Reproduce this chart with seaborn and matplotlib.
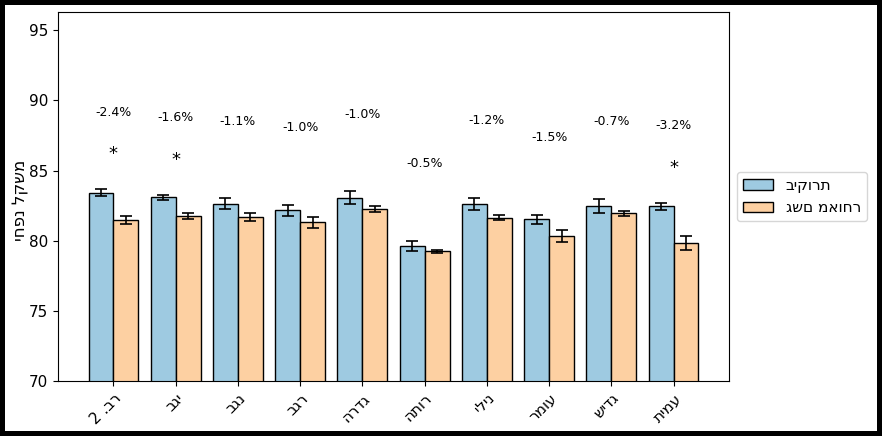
import matplotlib
matplotlib.use("Agg")
import matplotlib.pyplot as plt
import seaborn as sns
import pandas as pd

# ---- data ----
categories = ["רב. 2", "יגב", "נגב", "רגב", "גדרה", "רותה", "נילי", "עומר", "גדיש", "עמית"]
groups = ["ביקורת", "גשם מאוחר"]
control_mean = [83.41, 83.08, 82.63, 82.16, 83.06, 79.62, 82.61, 81.52, 82.49, 82.44]
control_err = [0.25, 0.19, 0.39, 0.40, 0.46, 0.38, 0.44, 0.33, 0.50, 0.24]
late_mean = [81.47, 81.75, 81.68, 81.30, 82.27, 79.24, 81.63, 80.33, 81.94, 79.85]
late_err = [0.31, 0.21, 0.28, 0.37, 0.19, 0.10, 0.17, 0.42, 0.21, 0.49]
pct_labels = ["-2.4%", "-1.6%", "-1.1%", "-1.0%", "-1.0%", "-0.5%", "-1.2%", "-1.5%", "-0.7%", "-3.2%"]
significant = [True, True, False, False, False, False, False, False, False, True]
y_label = "משקל נפחי"

colors = ["#9ecae1", "#fdd0a2"]


def rtl(s):
    # visual (right-to-left) order for matplotlib, which lays text out left to right
    return s[::-1]


df = pd.DataFrame({
    "cat": categories * 2,
    "group": [groups[0]] * len(categories) + [groups[1]] * len(categories),
    "value": control_mean + late_mean,
})

fig = plt.figure(figsize=(8.82, 4.36), dpi=100)
ax = fig.add_axes([0.0658, 0.1261, 0.7607, 0.8464])

sns.barplot(data=df, x="cat", y="value", hue="group", order=categories,
            hue_order=groups, palette=colors, saturation=1, errorbar=None,
            edgecolor="black", linewidth=1.0, width=0.8, ax=ax)

errs = [control_err, late_err]
for cont, err in zip(ax.containers, errs):
    xs = [p.get_x() + p.get_width() / 2 for p in cont.patches]
    hs = [p.get_height() for p in cont.patches]
    ax.errorbar(xs, hs, yerr=err, fmt="none", ecolor="black",
                elinewidth=1.2, capsize=4, capthick=1.2, zorder=5)

ax.set_ylim(70, 96.3)
ax.set_yticks([70, 75, 80, 85, 90, 95])
ax.tick_params(axis="y", labelsize=11)

for i in range(len(categories)):
    top = max(control_mean[i] + control_err[i], late_mean[i] + late_err[i])
    ax.text(i, top + 5.5, pct_labels[i], ha="center", va="center", fontsize=9)
    if significant[i]:
        ax.text(i, top + 2.5, "*", ha="center", va="center", fontsize=13)

ax.set_xticks(range(len(categories)))
ax.set_xticklabels([rtl(c) for c in categories], rotation=45, ha="right",
                   rotation_mode="anchor", fontsize=11)
ax.set_xlabel("")
ax.set_ylabel(rtl(y_label), fontsize=12)
ax.yaxis.set_label_coords(-0.043, 0.49)

handles, labels = ax.get_legend_handles_labels()
ax.legend(handles, labels, loc="center left",
          bbox_to_anchor=(1.0, 0.5), fontsize=11, frameon=True)

fig.patch.set_edgecolor("black")
fig.patch.set_linewidth(7)

fig.savefig("out.png", dpi=100, edgecolor=fig.get_edgecolor())
